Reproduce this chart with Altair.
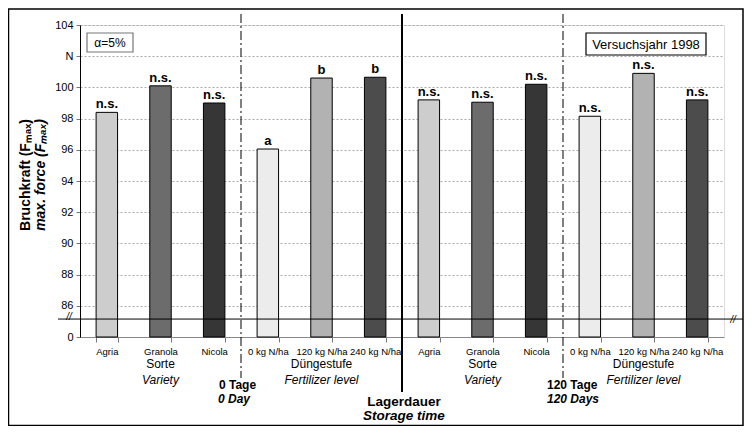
import altair as alt
import pandas as pd

# ---------------- data ----------------
keys = ["01|Agria", "02|Granola", "03|Nicola", "04|0 kg N/ha", "05|120 kg N/ha", "06|240 kg N/ha",
        "07|Agria", "08|Granola", "09|Nicola", "10|0 kg N/ha", "11|120 kg N/ha", "12|240 kg N/ha"]
values = [98.4, 100.1, 99.0, 96.05, 100.6, 100.65, 99.2, 99.05, 100.2, 98.15, 100.9, 99.2]
signif = ["n.s.", "n.s.", "n.s.", "a", "b", "b", "n.s.", "n.s.", "n.s.", "n.s.", "n.s.", "n.s."]
fills = ["#cdcdcd", "#6c6c6c", "#363636", "#ececec", "#b2b2b2", "#4c4c4c"] * 2
y_ticks = [84, 86, 88, 90, 92, 94, 96, 98, 100, 102, 104]
BASE = 84      # axis position standing for the value 0 (broken axis)
BREAK = 85.15  # where the axis break line is drawn

df = pd.DataFrame({"key": keys, "val": values, "sig": signif})

FONT = "Liberation Sans"
W, H = 644, 312
P_IN, P_OUT = 0.6, 0.3
STEP = W / (len(keys) - P_IN + 2 * P_OUT)
GAP_HALF = STEP * P_IN / 2

xscale = alt.Scale(domain=keys, paddingInner=P_IN, paddingOuter=P_OUT)
xaxis = alt.Axis(title=None, labelAngle=0, labelExpr="split(datum.value,'|')[1]",
                 labelFontSize=9.5, labelFont=FONT, labelColor="#000", labelPadding=4,
                 labelOverlap=False,
                 tickBand="extent", tickColor="#777", tickSize=5, domainColor="#888")
X = alt.X("key:N", sort=keys, scale=xscale, axis=xaxis)

yscale = alt.Scale(domain=[84, 104], nice=False, zero=False)
yaxis = alt.Axis(values=y_ticks, title=None, labelOverlap=False, tickCount=11,
                 labelExpr="datum.value==84?'0':datum.value==102?'N':datum.label",
                 grid=True, gridDash=[2, 2], gridColor="#aaaaaa",
                 domainColor="#000", tickColor="#777", tickSize=4,
                 labelFontSize=11, labelFont=FONT, labelColor="#000", labelPadding=3)
Y = alt.Y("val:Q", scale=yscale, axis=yaxis)

base = alt.Chart(df)

bars = base.mark_bar(stroke="#000", strokeWidth=1).encode(
    x=X, y=Y, y2=alt.datum(BASE),
    color=alt.Color("key:N", scale=alt.Scale(domain=keys, range=fills), legend=None),
)

sig_text = base.mark_text(dy=-8, fontSize=13, fontWeight="bold", font=FONT, color="#000").encode(
    x=X, y=Y, text="sig:N")

one = pd.DataFrame({"k": [0]})


def txt(s, x, y, size=11, weight="normal", style="normal", align="center", angle=0, xdatum=None):
    enc = dict(text=alt.value(s), y=alt.value(y))
    enc["x"] = alt.XDatum(xdatum, scale=xscale, axis=xaxis) if xdatum is not None else alt.value(x)
    return alt.Chart(one).mark_text(fontSize=size, fontWeight=weight, fontStyle=style, font=FONT,
                                    align=align, baseline="middle", angle=angle, color="#000").encode(**enc)


def box(x, x2, y, y2, stroke):
    return alt.Chart(one).mark_rect(fill="white", stroke=stroke, strokeWidth=1.2).encode(
        x=alt.value(x), x2=alt.value(x2), y=alt.value(y), y2=alt.value(y2))


break_line = alt.Chart(one).mark_rule(color="#000", strokeWidth=1).encode(
    y=alt.YDatum(BREAK, scale=yscale, axis=yaxis), x=alt.value(-22), x2=alt.value(663))


def divider(after_key, y2, dash, width):
    return alt.Chart(one).mark_rule(color="#000", strokeWidth=width, strokeDash=dash,
                                    xOffset=GAP_HALF).encode(
        x=alt.XDatum(after_key, bandPosition=1, scale=xscale, axis=xaxis),
        y=alt.value(-11), y2=alt.value(y2))


frame = alt.Chart(one).mark_rect(fill="transparent", stroke="#000", strokeWidth=1.5).encode(
    x=alt.value(-71.5), x2=alt.value(663), y=alt.value(-16), y2=alt.value(400.5))

layers = [
    bars, break_line, sig_text,
    divider(keys[2], 353, [9, 3, 2, 3], 1),
    divider(keys[5], 367, [1, 0], 2),
    divider(keys[8], 353, [9, 3, 2, 3], 1),
    box(7, 53, 8, 27, "#777"), txt("α=5%", 30, 17.5, size=12),
    box(506, 626, 8, 30, "#000"), txt("Versuchsjahr 1998", 566, 19.5, size=13),
    txt("//", -11, 292, size=10, style="italic"),
    txt("//", 653, 295, size=10, style="italic"),
    txt("Bruchkraft (Fₘₐₓ)", -54, 150, size=14, weight="bold", angle=270),
    txt("max. force (Fₘₐₓ)", -39, 150, size=14, weight="bold", style="italic", angle=270),
    txt("Sorte", 0, 339, size=12, xdatum=keys[1]),
    txt("Variety", 0, 355, size=12, style="italic", xdatum=keys[1]),
    txt("Düngestufe", 0, 339, size=12, xdatum=keys[4]),
    txt("Fertilizer level", 0, 355, size=12, style="italic", xdatum=keys[4]),
    txt("Sorte", 0, 339, size=12, xdatum=keys[7]),
    txt("Variety", 0, 355, size=12, style="italic", xdatum=keys[7]),
    txt("Düngestufe", 0, 339, size=12, xdatum=keys[10]),
    txt("Fertilizer level", 0, 355, size=12, style="italic", xdatum=keys[10]),
    txt("0 Tage", 139, 360, size=12, weight="bold", align="left"),
    txt("0 Day", 138, 374, size=12, weight="bold", style="italic", align="left"),
    txt("120 Tage", 467, 360, size=12, weight="bold", align="left"),
    txt("120 Days", 467, 374, size=12, weight="bold", style="italic", align="left"),
    txt("Lagerdauer", 324, 377, size=13.5, weight="bold"),
    txt("Storage time", 324, 391, size=13.5, weight="bold", style="italic"),
    frame,
]

chart = alt.layer(*layers).properties(
    width=W, height=H,
    autosize=alt.AutoSizeParams(type="none"),
    padding={"left": 72, "top": 17, "right": 20, "bottom": 89},
).configure_view(stroke="#888", strokeWidth=1).configure(background="white")

chart.save("out.html", embed_options={"renderer": "svg", "actions": False})
